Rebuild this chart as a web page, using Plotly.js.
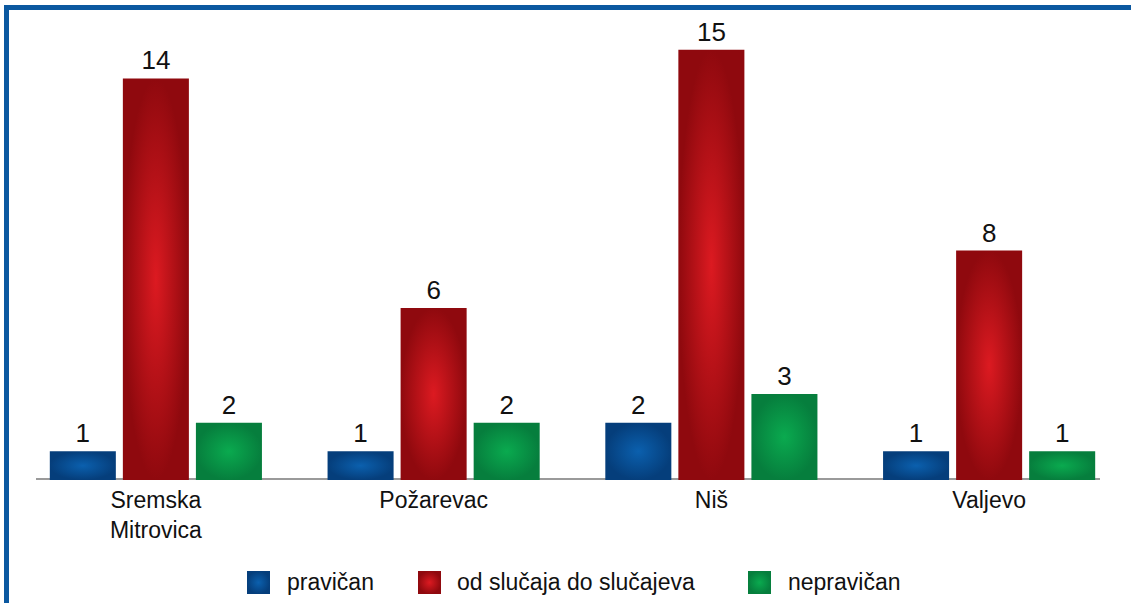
<!DOCTYPE html>
<html>
<head>
<meta charset="utf-8">
<script src="https://cdn.plot.ly/plotly-3.0.1.min.js"></script>
<style>
html,body{margin:0;padding:0;background:#fff;}
#chart{width:1131px;height:603px;}
</style>
</head>
<body>
<div id="chart"></div>
<script>
var categories = ['Sremska<br>Mitrovica', 'Požarevac', 'Niš', 'Valjevo'];
var seriesNames = ['pravičan', 'od slučaja do slučajeva', 'nepravičan'];
var pravican = [1, 1, 2, 1];
var odSlucaja = [14, 6, 15, 8];
var nepravican = [2, 2, 3, 1];

var baseColors = ['#0a4d91', '#b0121a', '#07924a'];
var gradStops = [
  ['#0b60ae', '#053e7b'],
  ['#dc1a21', '#8f090e'],
  ['#0aaa4f', '#067e3d']
];
var seriesValues = [pravican, odSlucaja, nepravican];

var traces = seriesValues.map(function (vals, i) {
  return {
    type: 'bar',
    name: seriesNames[i],
    x: categories,
    y: vals,
    marker: {color: baseColors[i], line: {width: 0}},
    text: vals.map(String),
    textposition: 'outside',
    textfont: {family: 'Liberation Sans Narrow, Arial Narrow, sans-serif', size: 26, color: '#111'},
    cliponaxis: false,
    showlegend: false,
    hoverinfo: 'x+y'
  };
});

var L = 17, R = 3, T = 21, B = 123;
var W = 1131 - L - R, H = 603 - T - B;
function px(x) { return (x - L) / W; }
function py(y) { return (603 - B - y) / H; }

var shapes = [
  // axis baseline
  {type: 'line', xref: 'paper', yref: 'paper', x0: px(36), x1: px(1100), y0: py(479), y1: py(479),
   line: {color: '#9a9a9a', width: 2}, layer: 'below'},
  // frame top
  {type: 'rect', xref: 'paper', yref: 'paper', x0: px(4), x1: px(1131), y0: py(10), y1: py(5),
   fillcolor: '#0b58a0', line: {width: 0}, layer: 'above'},
  // frame left
  {type: 'rect', xref: 'paper', yref: 'paper', x0: px(4), x1: px(9), y0: py(603), y1: py(5),
   fillcolor: '#0b58a0', line: {width: 0}, layer: 'above'}
];
var annotations = [];
var legendSquareX = [247, 418, 748];
var legendTextX = [285, 455, 786];
var legendShapeStart = shapes.length;
seriesNames.forEach(function (name, i) {
  shapes.push({type: 'rect', xref: 'paper', yref: 'paper',
    x0: px(legendSquareX[i]), x1: px(legendSquareX[i] + 23), y0: py(594), y1: py(571),
    fillcolor: baseColors[i], line: {width: 0}, layer: 'above'});
  annotations.push({xref: 'paper', yref: 'paper', x: px(legendTextX[i]), y: py(582),
    xanchor: 'left', yanchor: 'middle', showarrow: false, text: name,
    font: {family: 'Liberation Sans, Arial, sans-serif', size: 23, color: '#111'}});
});

var layout = {
  width: 1131, height: 603,
  margin: {l: L, r: R, t: T, b: B, pad: 0},
  paper_bgcolor: '#ffffff', plot_bgcolor: '#ffffff',
  barmode: 'group', bargap: 0.211, bargroupgap: 0.096,
  showlegend: false,
  xaxis: {type: 'category', showline: false, showgrid: false, zeroline: false, ticks: '',
    tickfont: {family: 'Liberation Sans, Arial, sans-serif', size: 23, color: '#111'}, ticklabelstandoff: 4},
  yaxis: {range: [0, 16], visible: false, showgrid: false, zeroline: false},
  shapes: shapes,
  annotations: annotations
};

Plotly.newPlot('chart', traces, layout, {displayModeBar: false, staticPlot: true}).then(function (gd) {
  var svg = gd.querySelector('.main-svg');
  var defs = svg.querySelector('defs');
  var ns = 'http://www.w3.org/2000/svg';
  gradStops.forEach(function (st, i) {
    var g = document.createElementNS(ns, 'radialGradient');
    g.setAttribute('id', 'barGrad' + i);
    g.setAttribute('cx', '0.5'); g.setAttribute('cy', '0.5'); g.setAttribute('r', '0.5');
    var s0 = document.createElementNS(ns, 'stop');
    s0.setAttribute('offset', '0'); s0.setAttribute('stop-color', st[0]);
    var s1 = document.createElementNS(ns, 'stop');
    s1.setAttribute('offset', '1'); s1.setAttribute('stop-color', st[1]);
    g.appendChild(s0); g.appendChild(s1);
    defs.appendChild(g);
  });
  var traceGroups = gd.querySelectorAll('.barlayer .trace');
  traceGroups.forEach(function (tg, i) {
    tg.querySelectorAll('.point path').forEach(function (p) {
      p.style.fill = 'url(#barGrad' + i + ')';
    });
  });
  for (var i = 0; i < 3; i++) {
    var p = gd.querySelector('.shapelayer path[data-index="' + (legendShapeStart + i) + '"]');
    if (p) p.style.fill = 'url(#barGrad' + i + ')';
  }
});
</script>
</body>
</html>
